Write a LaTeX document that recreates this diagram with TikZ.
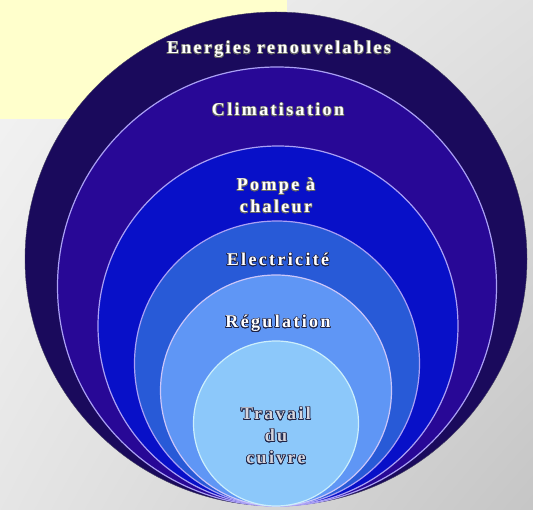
\documentclass[tikz,border=0pt]{standalone}
\usepackage{fontspec}
\usepackage{contour}
\usetikzlibrary{shapes.geometric,shadings}
\newfontfamily\ringfont[LetterSpace=13]{Liberation Serif}
\contourlength{0.7pt}

\definecolor{note}{RGB}{255,255,204}
\definecolor{rim}{RGB}{170,160,245}
\definecolor{outl}{RGB}{30,35,70}

\tikzset{
  every node/.style={inner sep=0pt},
  ring/.style={circle,draw=rim,line width=1.2pt},
  0/.style={ellipse,draw=rim!40!black,fill={rgb,255:red,26;green,10;blue,92},minimum width=502pt,minimum height=494pt},
  1/.style={ring,fill={rgb,255:red,40;green,8;blue,150},minimum size=439pt},
  2/.style={ring,fill={rgb,255:red,8;green,16;blue,200},minimum size=360pt},
  3/.style={ring,fill={rgb,255:red,40;green,90;blue,215},minimum size=285pt},
  4/.style={ring,draw=rim!60!white,fill={rgb,255:red,95;green,150;blue,245},minimum size=231pt},
  5/.style={ring,draw=white!80!cyan,fill={rgb,255:red,140;green,200;blue,250},minimum size=165pt},
  lbl/.style={font=\ringfont\bfseries\fontsize{18}{22}\selectfont,align=center,text=white}
}

\begin{document}
\begin{tikzpicture}[x=1pt,y=-1pt]
      \useasboundingbox (0,0) rectangle (533,510);
      \shade [upper left=gray!8,upper right=gray!24,lower left=gray!20,lower right=gray!45] (0,0) rectangle (533,510);
      \fill [note] (0,0) rectangle (287,119);

      \node [0] (ring0) at (276,259) {};
      \node [1] (ring1) at (277,286.5) {};
      \node [2] (ring2) at (278,326) {};
      \node [3] (ring3) at (277,363.5) {};
      \node [4] (ring4) at (276,390.5) {};
      \node [5] (ring5) at (276,423.5) {};

      \node [lbl] (energies) at (279,50) {\contour{black!60}{Energies renouvelables}};
      \node [lbl] (clim) at (278,110) {\contour{black!60}{Climatisation}};
      \node [lbl] (pompe) at (276,196) {\contour{black!60}{Pompe à}\\\contour{black!60}{chaleur}};
      \node [lbl] (elec) at (278,260) {\contour{outl}{Electricité}};
      \node [lbl] (regul) at (278,324) {\contour{outl}{Régulation}};
      \node [lbl,text=blue!10!gray!30] (cuivre) at (276,436) {\contour{outl}{Travail}\\\contour{outl}{du}\\\contour{outl}{cuivre}};
    \end{tikzpicture}
\end{document}
